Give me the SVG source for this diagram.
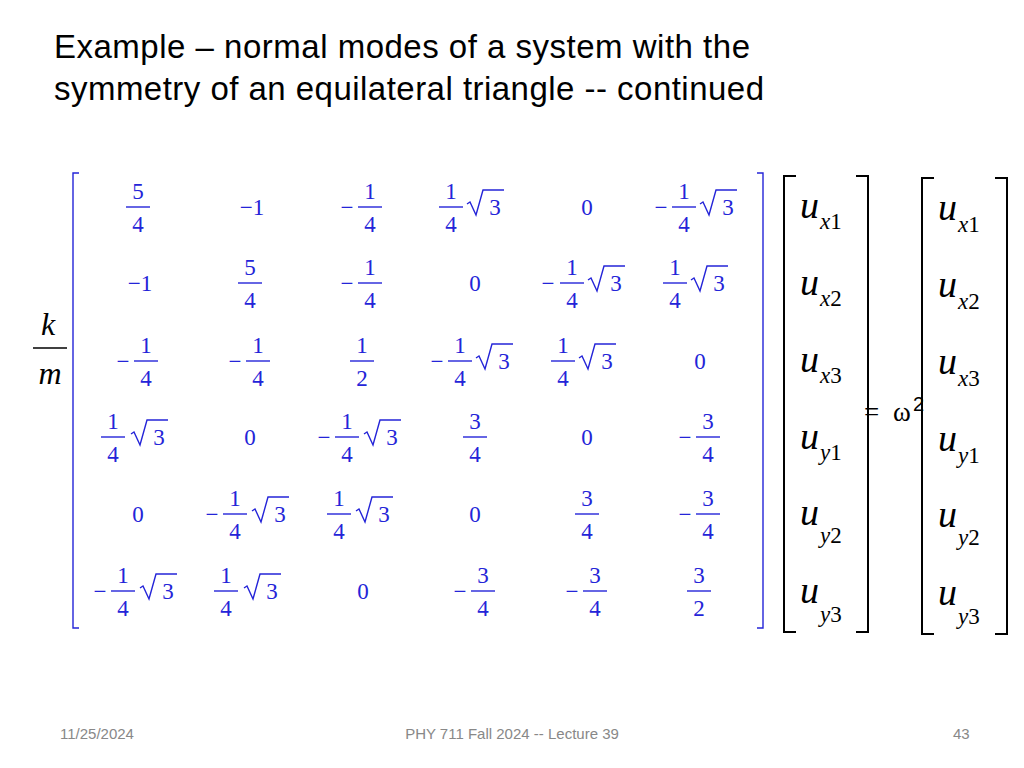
<svg xmlns="http://www.w3.org/2000/svg" width="1024" height="768" viewBox="0 0 1024 768">
<defs>
<style>
.t{font-family:"Liberation Sans",Arial,sans-serif;font-size:33px;fill:#000}
.f{font-family:"Liberation Sans",Arial,sans-serif;font-size:15px;fill:#888}
.m{font-family:"Liberation Serif","Times New Roman",serif;font-size:23px;fill:#2424d8;text-anchor:middle}
.ln{stroke:#2424d8;stroke-width:1.4;fill:none}
.br{stroke:#000;stroke-width:2;fill:none}
.u{font-family:"Liberation Serif","Times New Roman",serif;font-style:italic;font-size:38px;fill:#000}
.s{font-family:"Liberation Serif","Times New Roman",serif;font-size:23px;fill:#000}
.i{font-style:italic}
</style>
<g id="r"><path class="ln" d="M0,-3 l3,-2 l6,13 l7,-25 h21"/><text class="m" x="28" y="8">3</text></g>
</defs>
<rect width="1024" height="768" fill="#fff"/>
<g id="title"><text class="t" x="54" y="58" textLength="696">Example – normal modes of a system with the</text><text class="t" x="54" y="100" textLength="710">symmetry of an equilateral triangle -- continued</text></g>
<g id="footer"><text class="f" x="60" y="739">11/25/2024</text><text class="f" x="512" y="739" text-anchor="middle">PHY 711  Fall 2024 -- Lecture 39</text><text class="f" x="953" y="739">43</text></g>
<g id="km"><text x="48" y="335" font-family="Liberation Serif,serif" font-style="italic" font-size="32" text-anchor="middle">k</text><line x1="33" y1="348" x2="67" y2="348" stroke="#000" stroke-width="1.5"/><text x="50" y="384" font-family="Liberation Serif,serif" font-style="italic" font-size="32" text-anchor="middle">m</text></g>
<g id="matrix">
<path class="ln" d="M79,173 H73 V628 H79 M757,173 H763 V628 H757"/>
<g id="cells">
<g transform="translate(0,207)">
<text class="m" x="138" y="-8">5</text><line class="ln" x1="126" y1="0" x2="150" y2="0"/><text class="m" x="138" y="25">4</text>
<text class="m" x="252" y="8">−1</text>
<text class="m" x="347" y="8">−</text><text class="m" x="370" y="-8">1</text><line class="ln" x1="358" y1="0" x2="382" y2="0"/><text class="m" x="370" y="25">4</text>
<text class="m" x="451" y="-8">1</text><line class="ln" x1="439" y1="0" x2="463" y2="0"/><text class="m" x="451" y="25">4</text><use href="#r" x="467" y="0"/>
<text class="m" x="587" y="8">0</text>
<text class="m" x="661" y="8">−</text><text class="m" x="684" y="-8">1</text><line class="ln" x1="672" y1="0" x2="696" y2="0"/><text class="m" x="684" y="25">4</text><use href="#r" x="700" y="0"/>
</g>
<g transform="translate(0,283)">
<text class="m" x="140" y="8">−1</text>
<text class="m" x="250" y="-8">5</text><line class="ln" x1="238" y1="0" x2="262" y2="0"/><text class="m" x="250" y="25">4</text>
<text class="m" x="347" y="8">−</text><text class="m" x="370" y="-8">1</text><line class="ln" x1="358" y1="0" x2="382" y2="0"/><text class="m" x="370" y="25">4</text>
<text class="m" x="475" y="8">0</text>
<text class="m" x="548" y="8">−</text><text class="m" x="572" y="-8">1</text><line class="ln" x1="560" y1="0" x2="584" y2="0"/><text class="m" x="572" y="25">4</text><use href="#r" x="588" y="0"/>
<text class="m" x="675" y="-8">1</text><line class="ln" x1="663" y1="0" x2="687" y2="0"/><text class="m" x="675" y="25">4</text><use href="#r" x="691" y="0"/>
</g>
<g transform="translate(0,361)">
<text class="m" x="123" y="8">−</text><text class="m" x="146" y="-8">1</text><line class="ln" x1="134" y1="0" x2="158" y2="0"/><text class="m" x="146" y="25">4</text>
<text class="m" x="235" y="8">−</text><text class="m" x="258" y="-8">1</text><line class="ln" x1="246" y1="0" x2="270" y2="0"/><text class="m" x="258" y="25">4</text>
<text class="m" x="362" y="-8">1</text><line class="ln" x1="350" y1="0" x2="374" y2="0"/><text class="m" x="362" y="25">2</text>
<text class="m" x="437" y="8">−</text><text class="m" x="460" y="-8">1</text><line class="ln" x1="448" y1="0" x2="472" y2="0"/><text class="m" x="460" y="25">4</text><use href="#r" x="476" y="0"/>
<text class="m" x="563" y="-8">1</text><line class="ln" x1="551" y1="0" x2="575" y2="0"/><text class="m" x="563" y="25">4</text><use href="#r" x="579" y="0"/>
<text class="m" x="700" y="8">0</text>
</g>
<g transform="translate(0,437)">
<text class="m" x="113" y="-8">1</text><line class="ln" x1="101" y1="0" x2="125" y2="0"/><text class="m" x="113" y="25">4</text><use href="#r" x="131" y="0"/>
<text class="m" x="250" y="8">0</text>
<text class="m" x="324" y="8">−</text><text class="m" x="347" y="-8">1</text><line class="ln" x1="335" y1="0" x2="359" y2="0"/><text class="m" x="347" y="25">4</text><use href="#r" x="364" y="0"/>
<text class="m" x="475" y="-8">3</text><line class="ln" x1="463" y1="0" x2="487" y2="0"/><text class="m" x="475" y="25">4</text>
<text class="m" x="587" y="8">0</text>
<text class="m" x="685" y="8">−</text><text class="m" x="708" y="-8">3</text><line class="ln" x1="696" y1="0" x2="720" y2="0"/><text class="m" x="708" y="25">4</text>
</g>
<g transform="translate(0,514)">
<text class="m" x="138" y="8">0</text>
<text class="m" x="212" y="8">−</text><text class="m" x="235" y="-8">1</text><line class="ln" x1="223" y1="0" x2="247" y2="0"/><text class="m" x="235" y="25">4</text><use href="#r" x="252" y="0"/>
<text class="m" x="339" y="-8">1</text><line class="ln" x1="327" y1="0" x2="351" y2="0"/><text class="m" x="339" y="25">4</text><use href="#r" x="356" y="0"/>
<text class="m" x="475" y="8">0</text>
<text class="m" x="587" y="-8">3</text><line class="ln" x1="575" y1="0" x2="599" y2="0"/><text class="m" x="587" y="25">4</text>
<text class="m" x="685" y="8">−</text><text class="m" x="708" y="-8">3</text><line class="ln" x1="696" y1="0" x2="720" y2="0"/><text class="m" x="708" y="25">4</text>
</g>
<g transform="translate(0,591)">
<text class="m" x="100" y="8">−</text><text class="m" x="123" y="-8">1</text><line class="ln" x1="111" y1="0" x2="135" y2="0"/><text class="m" x="123" y="25">4</text><use href="#r" x="140" y="0"/>
<text class="m" x="226" y="-8">1</text><line class="ln" x1="214" y1="0" x2="238" y2="0"/><text class="m" x="226" y="25">4</text><use href="#r" x="244" y="0"/>
<text class="m" x="363" y="8">0</text>
<text class="m" x="460" y="8">−</text><text class="m" x="483" y="-8">3</text><line class="ln" x1="471" y1="0" x2="495" y2="0"/><text class="m" x="483" y="25">4</text>
<text class="m" x="572" y="8">−</text><text class="m" x="595" y="-8">3</text><line class="ln" x1="583" y1="0" x2="607" y2="0"/><text class="m" x="595" y="25">4</text>
<text class="m" x="699" y="-8">3</text><line class="ln" x1="687" y1="0" x2="711" y2="0"/><text class="m" x="699" y="25">2</text>
</g>
</g>
</g>
<g id="vec1">
<path class="br" d="M796,176 H784 V632 H796 M856,176 H868 V632 H856"/>
<text class="u" x="800" y="218">u</text><text class="s" x="820" y="229"><tspan class="i">x</tspan>1</text>
<text class="u" x="800" y="295">u</text><text class="s" x="820" y="306"><tspan class="i">x</tspan>2</text>
<text class="u" x="800" y="372">u</text><text class="s" x="820" y="383"><tspan class="i">x</tspan>3</text>
<text class="u" x="800" y="449">u</text><text class="s" x="820" y="460"><tspan class="i">y</tspan>1</text>
<text class="u" x="800" y="525">u</text><text class="s" x="820" y="543"><tspan class="i">y</tspan>2</text>
<text class="u" x="800" y="603">u</text><text class="s" x="820" y="622"><tspan class="i">y</tspan>3</text>
</g>
<g id="eq"><text x="864" y="421" font-family="Liberation Serif,serif" font-size="27">=</text><text x="893" y="421" font-family="Liberation Serif,serif" font-size="27">ω</text><text x="913" y="411" font-family="Liberation Sans,sans-serif" font-size="20">2</text></g>
<g id="vec2">
<path class="br" d="M934,178 H922 V634 H934 M995,178 H1007 V634 H995"/>
<text class="u" x="938" y="220">u</text><text class="s" x="958" y="232"><tspan class="i">x</tspan>1</text>
<text class="u" x="938" y="297">u</text><text class="s" x="958" y="309"><tspan class="i">x</tspan>2</text>
<text class="u" x="938" y="374">u</text><text class="s" x="958" y="386"><tspan class="i">x</tspan>3</text>
<text class="u" x="938" y="451">u</text><text class="s" x="958" y="463"><tspan class="i">y</tspan>1</text>
<text class="u" x="938" y="527">u</text><text class="s" x="958" y="545"><tspan class="i">y</tspan>2</text>
<text class="u" x="938" y="605">u</text><text class="s" x="958" y="624"><tspan class="i">y</tspan>3</text>
</g>
</svg>
